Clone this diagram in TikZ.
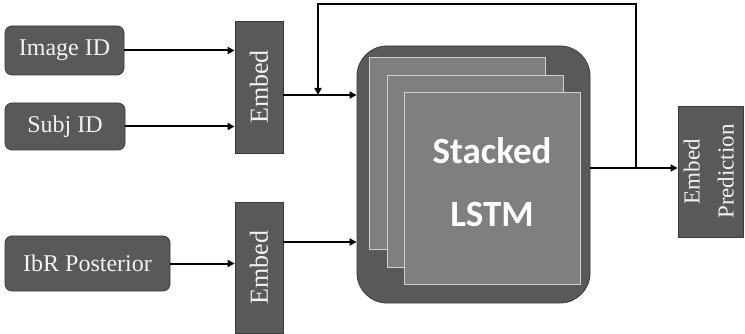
\documentclass[tikz,border=0pt]{standalone}
\usepackage{fontspec}
\setmainfont{Liberation Serif}
\newfontfamily\lstmfont{Carlito}
\usetikzlibrary{arrows.meta}
\definecolor{boxgray}{HTML}{595959}
\definecolor{layergray}{HTML}{7F7F7F}
\definecolor{edgegray}{HTML}{3A3A3A}
\definecolor{layeredge}{HTML}{D0D0D0}
\definecolor{txt}{HTML}{F2F2F2}
\tikzset{
  inbox/.style={draw=edgegray, line width=0.8pt, fill=boxgray, rounded corners=7pt, text=txt, font=\fontsize{24}{27}\selectfont, inner sep=0pt},
  embbox/.style={draw=edgegray, line width=0.8pt, fill=boxgray, text=txt, font=\fontsize{26}{29}\selectfont, inner sep=0pt},
  predbox/.style={draw=edgegray, line width=0.8pt, fill=boxgray, text=txt, font=\fontsize{23}{30}\selectfont, inner sep=0pt},
  layer/.style={draw=layeredge, line width=0.8pt, fill=layergray, minimum width=176pt, minimum height=192pt, inner sep=0pt},
  conn/.style={line width=2pt, -{Triangle[length=7pt,width=7pt]}}
}
\begin{document}
\begin{tikzpicture}[x=1pt,y=-1pt]
\useasboundingbox (0,0) rectangle (745,334);
\node[inbox, minimum width=119pt, minimum height=49pt] (img) at (64.5,50.5) {Image ID};
\node[inbox, minimum width=120pt, minimum height=47pt] (subj) at (65,126.5) {Subj ID};
\node[inbox, minimum width=165pt, minimum height=55pt] (ibr) at (87.5,263.5) {IbR Posterior};
\node[embbox, minimum width=48pt, minimum height=132pt] (emb1) at (259,87) {\rotatebox{90}{Embed}};
\node[embbox, minimum width=48pt, minimum height=131pt] (emb2) at (259,267.5) {\rotatebox{90}{Embed}};
\node[predbox, minimum width=65pt, minimum height=131pt] (pred) at (710.5,171.5) {\rotatebox{90}{\begin{tabular}{@{}c@{}}Embed\\[4pt]Prediction\end{tabular}}};
\node[draw=edgegray, line width=0.8pt, fill=boxgray, rounded corners=30pt, minimum width=233pt, minimum height=257pt, inner sep=0pt] (big) at (473.5,174.5) {};
\node[layer] (l1) at (457,153) {};
\node[layer] (l2) at (475,171) {};
\node[layer] (l3) at (492.5,188) {};
\node[text=white, font=\lstmfont\bfseries\fontsize{37}{63}\selectfont, align=center] (lbl) at (492,182) {Stacked\\LSTM};
% connectors
\draw[conn] (img.east) -- (img.east -| emb1.west);
\draw[conn] (subj.east) -- (subj.east -| emb1.west);
\draw[conn] (ibr.east) -- (ibr.east -| emb2.west);
\coordinate (e1o) at (283,95);
\coordinate (e2o) at (283,242);
\draw[conn] (e1o) -- (e1o -| big.west);
\draw[conn] (e2o) -- (e2o -| big.west);
\coordinate (bo) at (590,168);
\draw[conn] (bo) -- (bo -| pred.west);
\coordinate (split) at (636,168);
\coordinate (top1) at (636,4);
\coordinate (top2) at (318,4);
\coordinate (fbend) at (318,95);
\draw[conn] (split) -- (top1) -- (top2) -- (fbend);
\end{tikzpicture}
\end{document}
